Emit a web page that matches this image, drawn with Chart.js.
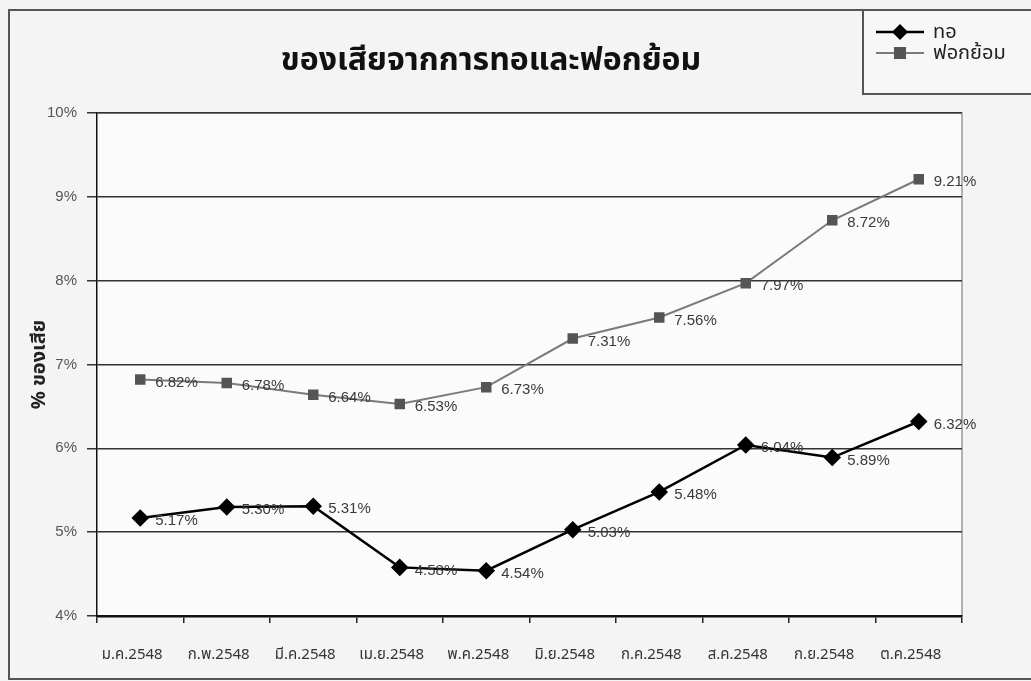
<!DOCTYPE html>
<html>
<head>
<meta charset="utf-8">
<script src="https://cdn.jsdelivr.net/npm/chart.js@4.4.1/dist/chart.umd.min.js"></script>
<style>
  html, body { margin: 0; padding: 0; background: #f4f4f4; }
  #wrap { width: 1031px; height: 681px; position: relative; }
</style>
</head>
<body>
<div id="wrap"><canvas id="c" width="1031" height="681"></canvas></div>
<script>
const categories = ['ม.ค.2548', 'ก.พ.2548', 'มี.ค.2548', 'เม.ย.2548', 'พ.ค.2548', 'มิ.ย.2548', 'ก.ค.2548', 'ส.ค.2548', 'ก.ย.2548', 'ต.ค.2548'];
const seriesTo = [5.17, 5.30, 5.31, 4.58, 4.54, 5.03, 5.48, 6.04, 5.89, 6.32];
const seriesFokYom = [6.82, 6.78, 6.64, 6.53, 6.73, 7.31, 7.56, 7.97, 8.72, 9.21];
const seriesNames = ['ทอ', 'ฟอกย้อม'];
const chartTitle = 'ของเสียจากการทอและฟอกย้อม';
const yAxisTitle = '% ของเสีย';
const yMin = 4, yMax = 10, yStep = 1;

const THAI = '"Noto Sans Thai", "Noto Sans Thai UI", Loma, Garuda, Kinnari, Norasi, "Tlwg Typo", "DejaVu Sans", "Noto Sans", sans-serif';
const LAT = '"Liberation Sans", Arial, sans-serif';

const decor = {
  id: 'decor',
  beforeDraw(chart) {
    const ctx = chart.ctx, a = chart.chartArea;
    ctx.save();
    ctx.fillStyle = '#f4f4f4';
    ctx.fillRect(0, 0, chart.width, chart.height);
    ctx.strokeStyle = '#555';
    ctx.lineWidth = 2;
    ctx.strokeRect(9, 10, 1030, 669);
    ctx.fillStyle = '#fbfbfb';
    ctx.fillRect(a.left, a.top, a.right - a.left, a.bottom - a.top);
    ctx.strokeStyle = '#999';
    ctx.lineWidth = 1.5;
    ctx.beginPath();
    ctx.moveTo(a.left, a.top);
    ctx.lineTo(a.right, a.top);
    ctx.lineTo(a.right, a.bottom);
    ctx.stroke();
    ctx.restore();
  },
  afterDatasetsDraw(chart) {
    const ctx = chart.ctx;
    ctx.save();
    ctx.font = '15px ' + LAT;
    ctx.fillStyle = '#3a3a3a';
    ctx.textAlign = 'left';
    ctx.textBaseline = 'middle';
    chart.data.datasets.forEach((ds, di) => {
      const meta = chart.getDatasetMeta(di);
      meta.data.forEach((pt, i) => {
        ctx.fillText(ds.data[i].toFixed(2) + '%', pt.x + 15, pt.y + 3);
      });
    });
    ctx.restore();
  },
  afterDraw(chart) {
    const ctx = chart.ctx;
    ctx.save();
    ctx.fillStyle = '#111';
    ctx.font = 'bold 32px ' + THAI;
    ctx.textAlign = 'center';
    ctx.textBaseline = 'middle';
    ctx.fillText(chartTitle, 491, 64);
    ctx.fillStyle = '#f7f7f7';
    ctx.fillRect(863, 10, 170, 84);
    ctx.strokeStyle = '#555';
    ctx.lineWidth = 2;
    ctx.strokeRect(863, 10, 175, 84);
    const ds = chart.data.datasets;
    const rows = [32, 53];
    ds.forEach((d, i) => {
      const y = rows[i];
      ctx.strokeStyle = d.borderColor;
      ctx.lineWidth = d.borderWidth;
      ctx.beginPath();
      ctx.moveTo(876, y);
      ctx.lineTo(924, y);
      ctx.stroke();
      ctx.fillStyle = d.pointBackgroundColor;
      if (i === 0) {
        ctx.beginPath();
        ctx.moveTo(900, y - 8);
        ctx.lineTo(908, y);
        ctx.lineTo(900, y + 8);
        ctx.lineTo(892, y);
        ctx.closePath();
        ctx.fill();
      } else {
        ctx.fillRect(894, y - 6, 12, 12);
      }
      ctx.fillStyle = '#222';
      ctx.font = '20px ' + THAI;
      ctx.textAlign = 'left';
      ctx.textBaseline = 'middle';
      ctx.fillText(d.label, 933, y + 2);
    });
    ctx.restore();
  }
};

new Chart(document.getElementById('c'), {
  type: 'line',
  data: {
    labels: categories,
    datasets: [
      {
        label: seriesNames[0],
        data: seriesTo,
        borderColor: '#000',
        borderWidth: 2.5,
        pointStyle: 'rectRot',
        pointRadius: 7,
        pointBackgroundColor: '#000',
        pointBorderColor: '#000',
        tension: 0
      },
      {
        label: seriesNames[1],
        data: seriesFokYom,
        borderColor: '#7a7a7a',
        borderWidth: 2,
        pointStyle: 'rect',
        pointRadius: 6,
        pointBackgroundColor: '#555',
        pointBorderColor: '#555',
        tension: 0
      }
    ]
  },
  plugins: [decor],
  options: {
    responsive: false,
    animation: false,
    devicePixelRatio: 1,
    layout: { padding: { left: 8, right: 69, top: 113, bottom: 0 } },
    plugins: {
      legend: { display: false },
      title: { display: false },
      tooltip: { enabled: false }
    },
    scales: {
      x: {
        offset: true,
        afterFit(s) { s.height = 65; },
        grid: { offset: true, drawOnChartArea: false, drawTicks: true, tickLength: 7, color: '#222', lineWidth: 1.5 },
        border: { display: true, color: '#111', width: 2.5 },
        ticks: { color: '#333', font: { family: THAI, size: 15 }, padding: 24, labelOffset: -8, maxRotation: 0, autoSkip: false }
      },
      y: {
        min: yMin, max: yMax,
        afterFit(s) { s.width = 89; },
        grid: { color: '#333', lineWidth: 1.5, tickLength: 10, drawTicks: true },
        border: { display: true, color: '#111', width: 1.5 },
        ticks: {
          stepSize: yStep, color: '#555', padding: 10,
          font: { family: LAT, size: 15 },
          callback: v => v + '%'
        },
        title: {
          display: true, text: yAxisTitle, color: '#222',
          font: { family: THAI, size: 20, weight: 'bold' },
          padding: { top: 21, bottom: 0 }
        }
      }
    }
  }
});
</script>
</body>
</html>
